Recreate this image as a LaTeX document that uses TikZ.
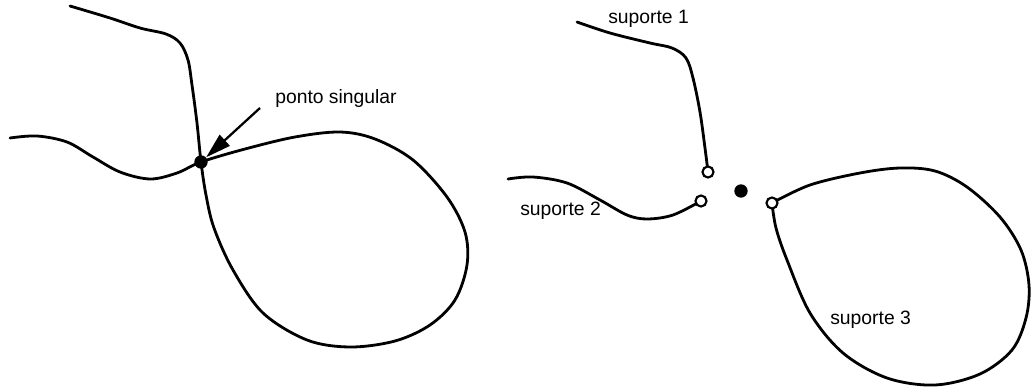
\documentclass[tikz,border=0pt]{standalone}
\usepackage{fontspec}
\setmainfont{Liberation Sans}
\usetikzlibrary{arrows.meta}

\begin{document}
\begin{tikzpicture}[x=0.75pt,y=-0.75pt,
    curve/.style={line width=2.1pt,line cap=round,line join=round},
    dot/.style={circle,fill=black,inner sep=0pt,minimum size=10pt},
    opendot/.style={circle,draw,line width=1.6pt,fill=white,inner sep=0pt,minimum size=8.3pt},
    lbl/.style={anchor=base west,inner sep=0pt,font=\fontsize{14.5}{17}\selectfont}]
      \useasboundingbox (0,0) rectangle (1033,389);
      % curva com ponto singular
      \coordinate (sp) at (201,162);
      \draw[curve] plot[smooth,tension=0.55] coordinates {
        (70,6) (110,18) (140,28) (166,34) (180,43) (188,60) (192,85) (197,123)
        (sp) (206,195) (214,228) (233,270) (263,313) (307,340) (350,347)
        (395,341) (430,325) (455,300) (467,265) (465,232) (447,197) (413,160)
        (375,139) (340,132) (295,137) (245,149) (sp) (177,173) (150,179)
        (120,172) (93,157) (67,142) (37,136) (10,138)};
      \node[dot] (sing) at (sp) {};
      \node[lbl] (singlbl) at (275,103) {ponto singular};
      \coordinate (tail) at (260,108);
      \path[draw,line width=1.7pt,-{Triangle[length=19pt,width=11pt]}] (tail) -- (sing);
      % suportes
      \coordinate (e1) at (708,172);
      \coordinate (e2) at (701,201);
      \coordinate (e3) at (772,203);
      \draw[curve] plot[smooth,tension=0.55] coordinates {
        (577,22) (610,33) (650,43) (672,48) (686,58) (693,78) (700,112) (705,148) (e1)};
      \draw[curve] plot[smooth,tension=0.55] coordinates {
        (508,179) (533,177) (567,183) (600,200) (627,215) (647,219) (673,215) (e2)};
      \draw[curve] plot[smooth,tension=0.55] coordinates {
        (e3) (810,185) (860,173) (900,168) (935,171) (967,187) (1000,217)
        (1021,250) (1029,285) (1026,318) (1012,350) (980,374) (935,385)
        (887,378) (843,353) (810,313) (787,260) (776,228) (e3)};
      \node[opendot] (end1) at (e1) {};
      \node[opendot] (end2) at (e2) {};
      \node[opendot] (end3) at (e3) {};
      \node[dot] (sing2) at (741,191) {};
      \node[lbl] (sup1) at (608,23) {suporte 1};
      \node[lbl] (sup2) at (520,215) {suporte 2};
      \node[lbl] (sup3) at (830,324) {suporte 3};
    \end{tikzpicture}
\end{document}
